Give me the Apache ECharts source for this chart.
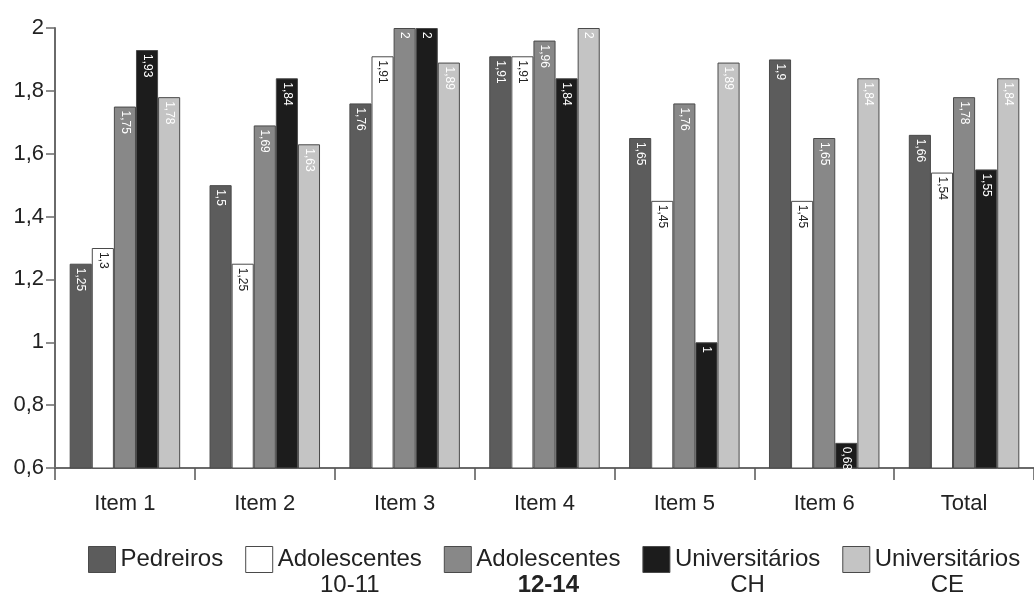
<!DOCTYPE html>
<html><head><meta charset="utf-8">
<script src="https://cdn.jsdelivr.net/npm/echarts@6/dist/echarts.min.js"></script>
<style>html,body{margin:0;padding:0;background:#fff}#c{width:1034px;height:595px}</style>
</head><body><div id="c"></div>
<script>
const categories = ['Item 1','Item 2','Item 3','Item 4','Item 5','Item 6','Total'];
const seriesNames = ['Pedreiros','Adolescentes\n10-11','Adolescentes\n12-14','Universitários\nCH','Universitários\nCE'];
const pedreiros      = [1.25, 1.5, 1.76, 1.91, 1.65, 1.9, 1.66];
const adol1011       = [1.3, 1.25, 1.91, 1.91, 1.45, 1.45, 1.54];
const adol1214       = [1.75, 1.69, 2, 1.96, 1.76, 1.65, 1.78];
const univCH         = [1.93, 1.84, 2, 1.84, 1, 0.68, 1.55];
const univCE         = [1.78, 1.63, 1.89, 2, 1.89, 1.84, 1.84];
const yTicks = [0.6, 0.8, 1, 1.2, 1.4, 1.6, 1.8, 2];

const colors = ['#5c5c5c','#ffffff','#888888','#1c1c1c','#c4c4c4'];
const labelColors = ['#fff','#222','#fff','#fff','#fff'];
const allData = [pedreiros, adol1011, adol1214, univCH, univCE];
const fmt = v => String(v).replace('.', ',');

const chart = echarts.init(document.getElementById('c'));
chart.setOption({
  animation:false,
  backgroundColor:'#fff',
  textStyle:{fontFamily:'Liberation Sans, Arial, sans-serif'},
  grid:{left:55, top:28, width:987, bottom:127, containLabel:false},
  xAxis:{
    type:'category', data:categories,
    axisLine:{lineStyle:{color:'#6a6a6a', width:2}},
    axisTick:{show:true, length:12, lineStyle:{color:'#555', width:1.5}},
    axisLabel:{color:'#222', fontSize:22, margin:25}
  },
  yAxis:{
    type:'value', min:yTicks[0], max:yTicks[yTicks.length-1], interval:0.2,
    axisLine:{show:true, lineStyle:{color:'#6a6a6a', width:2}},
    axisTick:{show:true, length:9, lineStyle:{color:'#6a6a6a', width:1.5}},
    splitLine:{show:false},
    axisLabel:{color:'#222', fontSize:22, margin:11,
      formatter:v=>{const r=Math.round(v*10)/10; return fmt(r);}}
  },
  legend:{
    left:88, top:546, padding:0, itemGap:22, itemWidth:27, itemHeight:26,
    icon:'rect',
    textStyle:{color:'#222', fontSize:24, padding:[26,0,0,0],
      rich:{
        a:{fontSize:24, lineHeight:26, align:'center', color:'#222'},
        b:{fontSize:24, lineHeight:26, align:'center', color:'#222'},
        c:{fontSize:24, lineHeight:26, align:'center', color:'#222', fontWeight:'bold'}
      }},
    formatter:name=>{
      const p = name.split('\n');
      if(p.length===1) return '{a|'+p[0]+'}\n{b| }';
      const tag = p[1]==='12-14' ? 'c' : 'b';
      return '{a|'+p[0]+'}\n{'+tag+'|'+p[1]+'}';
    },
    data:seriesNames.map(n=>({name:n, itemStyle:{borderColor:'#4a4a4a', borderWidth:1}}))
  },
  series: seriesNames.map((n,i)=>({
    name:n, type:'bar', data:allData[i],
    barGap:'0%', barCategoryGap:'21%',
    itemStyle:{color:colors[i], borderColor:'#4a4a4a', borderWidth:1},
    label:{show:true, position:'insideTop', rotate:-90, align:'left', verticalAlign:'middle',
      distance:4, color:labelColors[i], fontSize:12, formatter:p=>fmt(p.value)}
  }))
});
</script></body></html>
